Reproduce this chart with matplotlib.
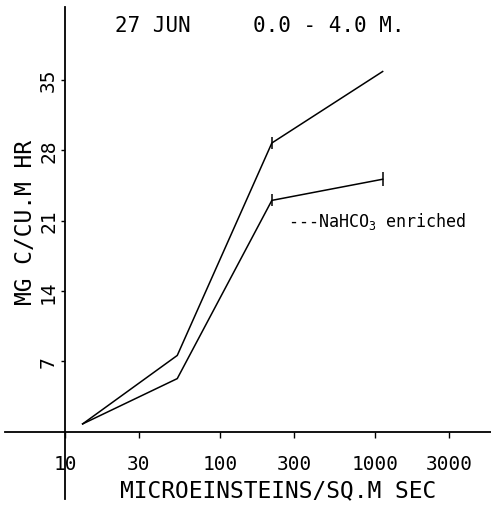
import numpy as np
import matplotlib
matplotlib.use("Agg")
import matplotlib.pyplot as plt

# light intensity (microeinsteins / sq.m sec) and production (mg C / cu.m hr)
light = [13, 53, 216, 1120]
control = [0.8, 7.6, 28.7, 35.8]
control_err = [0, 0, 0.6, 0]
enriched = [0.8, 5.3, 23.0, 25.1]
enriched_err = [0, 0, 0.6, 0.7]

xticks = [10, 30, 100, 300, 1000, 3000]
yticks = [7, 14, 21, 28, 35]

plt.rcParams['font.family'] = 'DejaVu Sans Mono'
plt.rcParams['mathtext.fontset'] = 'custom'
plt.rcParams['mathtext.rm'] = 'DejaVu Sans Mono'

fig = plt.figure(figsize=(4.91, 5.10), dpi=100)
ax = fig.add_axes([0, 0, 1, 1])
ax.set_xscale('log')
ax.set_xlim(3.81, 5598)
ax.set_ylim(-7.65, 43.0)

ax.errorbar(light, control, yerr=control_err, color='black', lw=1.1,
            elinewidth=1.1, capsize=0)
ax.errorbar(light, enriched, yerr=enriched_err, color='black', lw=1.1,
            elinewidth=1.1, capsize=0)

# axes crossing at (10, 0)
for s in ['top', 'right']:
    ax.spines[s].set_visible(False)
ax.spines['left'].set_position(('data', 10))
ax.spines['bottom'].set_position(('data', 0))
ax.spines['left'].set_bounds(-6.7, 42.2)
ax.spines['bottom'].set_bounds(4.1, 5600)
for s in ['left', 'bottom']:
    ax.spines[s].set_linewidth(1.3)

ax.set_xticks(xticks)
ax.set_xticklabels([str(v) for v in xticks])
ax.xaxis.set_minor_locator(matplotlib.ticker.NullLocator())
ax.set_yticks(yticks)
ax.set_yticklabels([str(v) for v in yticks], rotation=90, va='center')
ax.tick_params(axis='x', direction='out', length=4, width=1, pad=12, labelsize=14)
ax.tick_params(axis='y', direction='out', length=3, width=1, pad=2, labelsize=14)

ax.text(275, 21.0, '---NaHCO$_3$ enriched', fontsize=12, va='center', ha='left')

fig.text(0.234, 0.949, '27 JUN', fontsize=15, ha='left', va='center')
fig.text(0.515, 0.949, '0.0 - 4.0 M.', fontsize=15, ha='left', va='center')
fig.text(0.566, 0.037, 'MICROEINSTEINS/SQ.M SEC', fontsize=16.5, ha='center', va='center')
fig.text(0.051, 0.563, 'MG C/CU.M HR', fontsize=16.5, ha='center', va='center', rotation=90)

fig.savefig('out.png', dpi=100)
